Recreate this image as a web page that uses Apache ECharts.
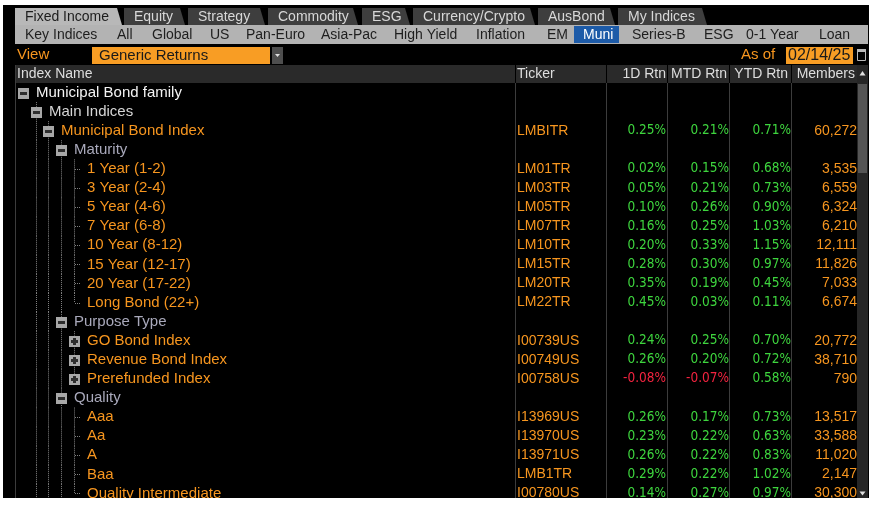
<!DOCTYPE html>
<html>
<head>
<meta charset="utf-8">
<script src="https://cdn.jsdelivr.net/npm/echarts@6/dist/echarts.min.js"></script>
<style>
  html, body { margin: 0; padding: 0; background: #fff; }
  #main { width: 878px; height: 505px; }
</style>
</head>
<body>
<div id="main"></div>
<script>
// tree rows, top to bottom
const names = ["Municipal Bond family", "Main Indices", "Municipal Bond Index", "Maturity",
  "1 Year (1-2)", "3 Year (2-4)", "5 Year (4-6)", "7 Year (6-8)", "10 Year (8-12)",
  "15 Year (12-17)", "20 Year (17-22)", "Long Bond (22+)", "Purpose Type",
  "GO Bond Index", "Revenue Bond Index", "Prerefunded Index", "Quality",
  "Aaa", "Aa", "A", "Baa", "Quality Intermediate"];
const levels = [0, 1, 2, 3, 4, 4, 4, 4, 4, 4, 4, 4, 3, 4, 4, 4, 3, 4, 4, 4, 4, 4];
// "-" expanded node, "+" collapsed node, "" leaf
const nodes = ["-", "-", "-", "-", "", "", "", "", "", "", "", "", "-", "+", "+", "+", "-", "", "", "", "", ""];
const tickers = ["", "", "LMBITR", "", "LM01TR", "LM03TR", "LM05TR", "LM07TR", "LM10TR",
  "LM15TR", "LM20TR", "LM22TR", "", "I00739US", "I00749US", "I00758US", "",
  "I13969US", "I13970US", "I13971US", "LMB1TR", "I00780US"];
const rtn1d = [null, null, 0.25, null, 0.02, 0.05, 0.10, 0.16, 0.20, 0.28, 0.35, 0.45, null,
  0.24, 0.26, -0.08, null, 0.26, 0.23, 0.26, 0.29, 0.14];
const rtnMtd = [null, null, 0.21, null, 0.15, 0.21, 0.26, 0.25, 0.33, 0.30, 0.19, 0.03, null,
  0.25, 0.20, -0.07, null, 0.17, 0.22, 0.22, 0.22, 0.27];
const rtnYtd = [null, null, 0.71, null, 0.68, 0.73, 0.90, 1.03, 1.15, 0.97, 0.45, 0.11, null,
  0.70, 0.72, 0.58, null, 0.73, 0.63, 0.83, 1.02, 0.97];
const members = [null, null, 60272, null, 3535, 6559, 6324, 6210, 12111, 11826, 7033, 6674, null,
  20772, 38710, 790, null, 13517, 33588, 11020, 2147, 30300];

const topTabs = ["Fixed Income", "Equity", "Strategy", "Commodity", "ESG", "Currency/Crypto", "AusBond", "My Indices"];
const subTabs = ["Key Indices", "All", "Global", "US", "Pan-Euro", "Asia-Pac", "High Yield",
  "Inflation", "EM", "Muni", "Series-B", "ESG", "0-1 Year", "Loan"];
const headers = ["Index Name", "Ticker", "1D Rtn", "MTD Rtn", "YTD Rtn", "Members"];
const viewName = "Generic Returns";
const asOfDate = "02/14/25";

// layout
const FAM = "'Liberation Sans', Arial, sans-serif";
const FONT = "14px " + FAM;
const NAMEFONT = "15px " + FAM;
const PCTFONT = "13.5px 'DejaVu Sans Condensed', 'DejaVu Sans', sans-serif";
const ORANGE = "#f7961f";
const GREEN = "#3ed53e";
const RED = "#f2233f";
const topTabX = [[15, 122], [124, 185], [188, 265], [268, 358], [362, 410], [413, 535], [538, 615], [618, 707]];
const subTabX = [25, 117, 152, 210, 246, 321, 394, 476, 547, 583, 632, 704, 746, 819];
const headerX = [17, 517, 666, 727, 788, 855];
const valueRight = [666, 729, 791, 857];
const colLines = [515, 606, 667, 729, 791];

const chart = echarts.init(document.getElementById("main"));

const g = [];
g.push({ type: "rect", shape: { x: 3, y: 5, width: 866, height: 493 }, style: { fill: "#000" }, z: 0 });

// top tabs
topTabs.forEach((t, i) => {
  const [x0, x1] = topTabX[i];
  const sel = i === 0;
  g.push({ type: "polygon", z: 1, shape: { points: [[x0, 25], [x0, 8], [x1 - 5, 8], [x1, 25]] },
    style: { fill: sel ? "#b8b8b8" : "#3e3e3e" } });
  g.push({ type: "text", z: 2, style: { text: t, x: x0 + 10, y: 17, font: FONT,
    fill: sel ? "#1c1c1c" : "#d8d8d8", verticalAlign: "middle" } });
});

// sub tabs
g.push({ type: "rect", z: 1, shape: { x: 15, y: 25, width: 853, height: 19 }, style: { fill: "#b3b3b3" } });
g.push({ type: "rect", z: 1, shape: { x: 574, y: 26, width: 45, height: 17 }, style: { fill: "#1d5ba8" } });
subTabs.forEach((t, i) => {
  g.push({ type: "text", z: 2, style: { text: t, x: subTabX[i], y: 35, font: FONT,
    fill: t === "Muni" ? "#ffffff" : "#1e1e1e", verticalAlign: "middle" } });
});

// view row
g.push({ type: "text", z: 2, style: { text: "View", x: 17, y: 55, font: "15px " + FAM, fill: ORANGE, verticalAlign: "middle" } });
g.push({ type: "rect", z: 1, shape: { x: 92, y: 47, width: 178, height: 17 }, style: { fill: "#f89d24" } });
g.push({ type: "text", z: 2, style: { text: viewName, x: 99, y: 55.5, font: "15px " + FAM, fill: "#1a1a1a", verticalAlign: "middle" } });
g.push({ type: "rect", z: 1, shape: { x: 272, y: 47, width: 11, height: 17 }, style: { fill: "#4e4e4e" } });
g.push({ type: "polygon", z: 2, shape: { points: [[275, 54], [280, 54], [277.5, 57]] }, style: { fill: "#e0e0e0" } });
g.push({ type: "text", z: 2, style: { text: "As of", x: 741, y: 55, font: "15px " + FAM, fill: ORANGE, verticalAlign: "middle" } });
g.push({ type: "rect", z: 1, shape: { x: 786, y: 47, width: 67, height: 17 }, style: { fill: "#f89d24" } });
g.push({ type: "text", z: 2, style: { text: asOfDate, x: 788, y: 55.5, font: "16px " + FAM, fill: "#1a1a1a", verticalAlign: "middle" } });
g.push({ type: "rect", z: 2, shape: { x: 857.5, y: 49.5, width: 8, height: 11 }, style: { fill: "none", stroke: "#b8b8b8", lineWidth: 1 } });
g.push({ type: "rect", z: 2, shape: { x: 857, y: 49, width: 9, height: 3 }, style: { fill: "#b8b8b8" } });

// header
g.push({ type: "rect", z: 1, shape: { x: 15, y: 65, width: 842, height: 18 }, style: { fill: "#2a2a2a" } });
headers.forEach((h, i) => {
  g.push({ type: "text", z: 2, style: { text: h, x: headerX[i], y: 74, font: FONT, fill: "#dedede",
    verticalAlign: "middle", align: i < 2 ? "left" : "right" } });
});
colLines.forEach(x => {
  g.push({ type: "line", z: 2, shape: { x1: x + 0.5, y1: 65, x2: x + 0.5, y2: 83 }, style: { stroke: "#000", lineWidth: 1 } });
  g.push({ type: "line", z: 1, shape: { x1: x + 0.5, y1: 83, x2: x + 0.5, y2: 498 }, style: { stroke: "#3c3c3c", lineWidth: 1 } });
});
g.push({ type: "line", z: 1, shape: { x1: 15.5, y1: 65, x2: 15.5, y2: 498 }, style: { stroke: "#3c3c3c", lineWidth: 1 } });

// scrollbar
g.push({ type: "rect", z: 1, shape: { x: 857, y: 65, width: 11, height: 433 }, style: { fill: "#262626" } });
g.push({ type: "rect", z: 1, shape: { x: 858, y: 84, width: 9, height: 89 }, style: { fill: "#555555" } });
g.push({ type: "polygon", z: 2, shape: { points: [[859.5, 75.5], [865.5, 75.5], [862.5, 71]] }, style: { fill: "#e0e0e0" } });
g.push({ type: "polygon", z: 2, shape: { points: [[859.5, 491.5], [865.5, 491.5], [862.5, 495.5]] }, style: { fill: "#e0e0e0" } });

// white frame over everything
g.push({ type: "rect", z: 100, shape: { x: 0, y: 0, width: 878, height: 5 }, style: { fill: "#fff" } });
g.push({ type: "rect", z: 100, shape: { x: 0, y: 498, width: 878, height: 7 }, style: { fill: "#fff" } });
g.push({ type: "rect", z: 100, shape: { x: 0, y: 0, width: 3, height: 505 }, style: { fill: "#fff" } });
g.push({ type: "rect", z: 100, shape: { x: 869, y: 0, width: 9, height: 505 }, style: { fill: "#fff" } });

const boxX = l => Math.round(23 + l * 12.7);
const pct = v => v.toFixed(2) + "%";

function renderItem(params, api) {
  const i = api.value(1);
  const yc = api.coord([0, i])[1];
  const band = api.size([0, 1])[1];
  const top = yc - band / 2, bot = yc + band / 2;
  const lv = levels[i];
  const last = i === names.length - 1 || levels[i + 1] < lv;
  const dot = { stroke: "#808080", lineWidth: 1, lineDash: [1, 1] };
  const kids = [];
  for (let k = 1; k < lv; k++) {
    const x = boxX(k) + 0.5;
    kids.push({ type: "line", shape: { x1: x, y1: top, x2: x, y2: bot }, style: dot });
  }
  const bx = boxX(lv);
  if (nodes[i] === "") {
    kids.push({ type: "line", shape: { x1: bx + 0.5, y1: top, x2: bx + 0.5, y2: last ? yc : bot }, style: dot });
    kids.push({ type: "line", shape: { x1: bx + 1, y1: Math.round(yc) + 0.5, x2: bx + 6, y2: Math.round(yc) + 0.5 }, style: dot });
  } else {
    if (lv > 0) {
      kids.push({ type: "line", shape: { x1: bx + 0.5, y1: top, x2: bx + 0.5, y2: yc - 5 }, style: dot });
      if (!last) kids.push({ type: "line", shape: { x1: bx + 0.5, y1: yc + 5, x2: bx + 0.5, y2: bot }, style: dot });
    }
    const by = Math.round(yc) - 5;
    kids.push({ type: "rect", shape: { x: bx - 5, y: by, width: 11, height: 11 }, style: { fill: "#a8a8a8" } });
    kids.push({ type: "rect", shape: { x: bx - 3, y: by + 4, width: 7, height: 3 }, style: { fill: "#2e2e2e" } });
    if (nodes[i] === "+") {
      kids.push({ type: "rect", shape: { x: bx - 1, y: by + 2, width: 3, height: 7 }, style: { fill: "#2e2e2e" } });
    }
  }
  const nameColor = tickers[i] ? ORANGE : lv === 0 ? "#f4f4f4" : lv === 1 ? "#d6d6d6" : "#a9a9bb";
  kids.push({ type: "text", style: { text: names[i], x: bx + 13, y: yc, font: NAMEFONT,
    fill: nameColor, verticalAlign: "middle" } });
  if (tickers[i]) {
    kids.push({ type: "text", style: { text: tickers[i], x: 517, y: yc, font: FONT, fill: ORANGE, verticalAlign: "middle" } });
    [rtn1d[i], rtnMtd[i], rtnYtd[i]].forEach((v, c) => {
      kids.push({ type: "text", style: { text: pct(v), x: valueRight[c], y: yc, font: PCTFONT,
        fill: v < 0 ? RED : GREEN, align: "right", verticalAlign: "middle" } });
    });
    kids.push({ type: "text", style: { text: members[i].toLocaleString("en-US"), x: valueRight[3], y: yc, font: FONT,
      fill: ORANGE, align: "right", verticalAlign: "middle" } });
  }
  return { type: "group", children: kids };
}

chart.setOption({
  animation: false,
  backgroundColor: "#fff",
  grid: { left: 0, right: 0, top: 83, bottom: 2 },
  xAxis: { type: "value", min: 0, max: 878, show: false },
  yAxis: { type: "category", data: names, inverse: true, show: false },
  graphic: { elements: g },
  series: [{
    type: "custom",
    silent: true,
    z: 10,
    renderItem: renderItem,
    data: names.map((n, i) => [0, i])
  }]
});
</script>
</body>
</html>
